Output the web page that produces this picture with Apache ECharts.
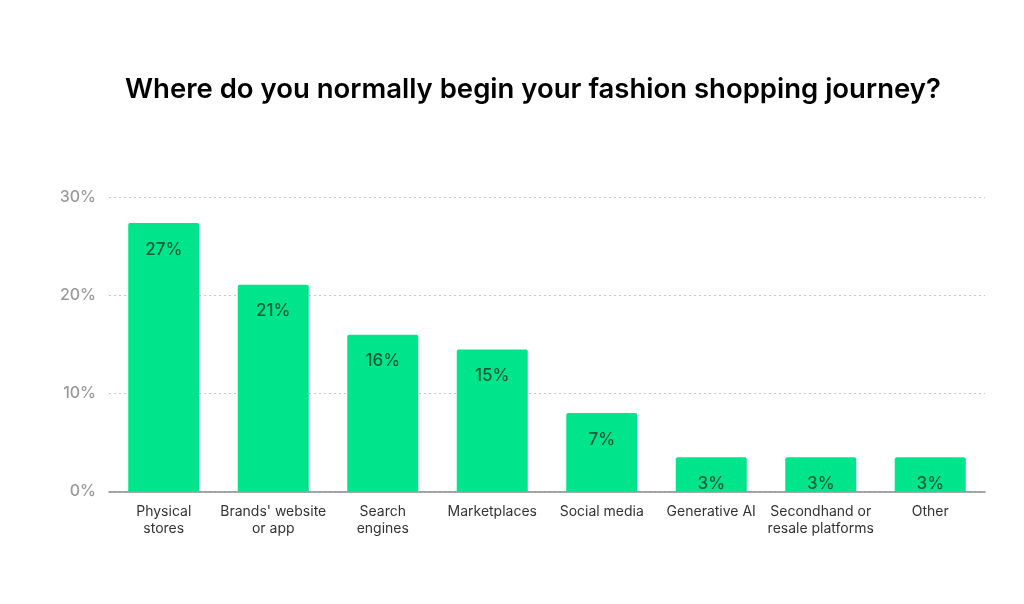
<!DOCTYPE html>
<html>
<head>
<meta charset="utf-8">
<script src="https://cdn.jsdelivr.net/npm/echarts@6/dist/echarts.min.js"></script>
<style>
    html, body { margin: 0; padding: 0; background: #fff; }
    #chart { width: 1024px; height: 604px; }
</style>
</head>
<body>
<div id="chart"></div>
<script>
    const categories = ['Physical\nstores', "Brands' website\nor app", 'Search\nengines', 'Marketplaces',
        'Social media', 'Generative AI', 'Secondhand or\nresale platforms', 'Other'];
    const shares = [27.4, 21.1, 16.0, 14.5, 8.0, 3.5, 3.5, 3.5];
    const shareLabels = ['27%', '21%', '16%', '15%', '7%', '3%', '3%', '3%'];

    const chart = echarts.init(document.getElementById('chart'));
    chart.setOption({
        backgroundColor: '#fff',
        title: {
            text: 'Where do you normally begin your fashion shopping journey?',
            left: 120,
            top: 71,
            textStyle: {
                fontFamily: 'Inter',
                fontSize: 27.5,
                fontWeight: 600,
                color: '#000'
            }
        },
        grid: {
            left: 109,
            right: 39,
            top: 197.5,
            bottom: 112.5,
            containLabel: false
        },
        xAxis: {
            type: 'category',
            data: categories,
            axisTick: { show: false },
            axisLine: { lineStyle: { color: '#8a8a8a', width: 1.5 } },
            axisLabel: {
                interval: 0,
                margin: 12,
                fontFamily: 'Inter',
                fontSize: 14,
                lineHeight: 17,
                color: '#333'
            }
        },
        yAxis: {
            type: 'value',
            min: 0,
            max: 30,
            interval: 10,
            axisLabel: {
                formatter: '{value}%',
                fontFamily: 'Inter',
                fontSize: 16,
                fontWeight: 500,
                color: '#9a9a9a',
                margin: 13
            },
            splitLine: { lineStyle: { color: '#c8c8c8', type: [2, 3], width: 1 } }
        },
        series: [{
            type: 'bar',
            data: shares,
            barWidth: 71,
            itemStyle: {
                color: '#00e58c',
                borderRadius: [2, 2, 0, 0]
            },
            label: {
                show: true,
                position: 'insideTop',
                distance: 18,
                formatter: (p) => shareLabels[p.dataIndex],
                fontFamily: 'Inter',
                fontSize: 17,
                fontWeight: 500,
                color: '#125c3a'
            }
        }]
    });
</script>
</body>
</html>
